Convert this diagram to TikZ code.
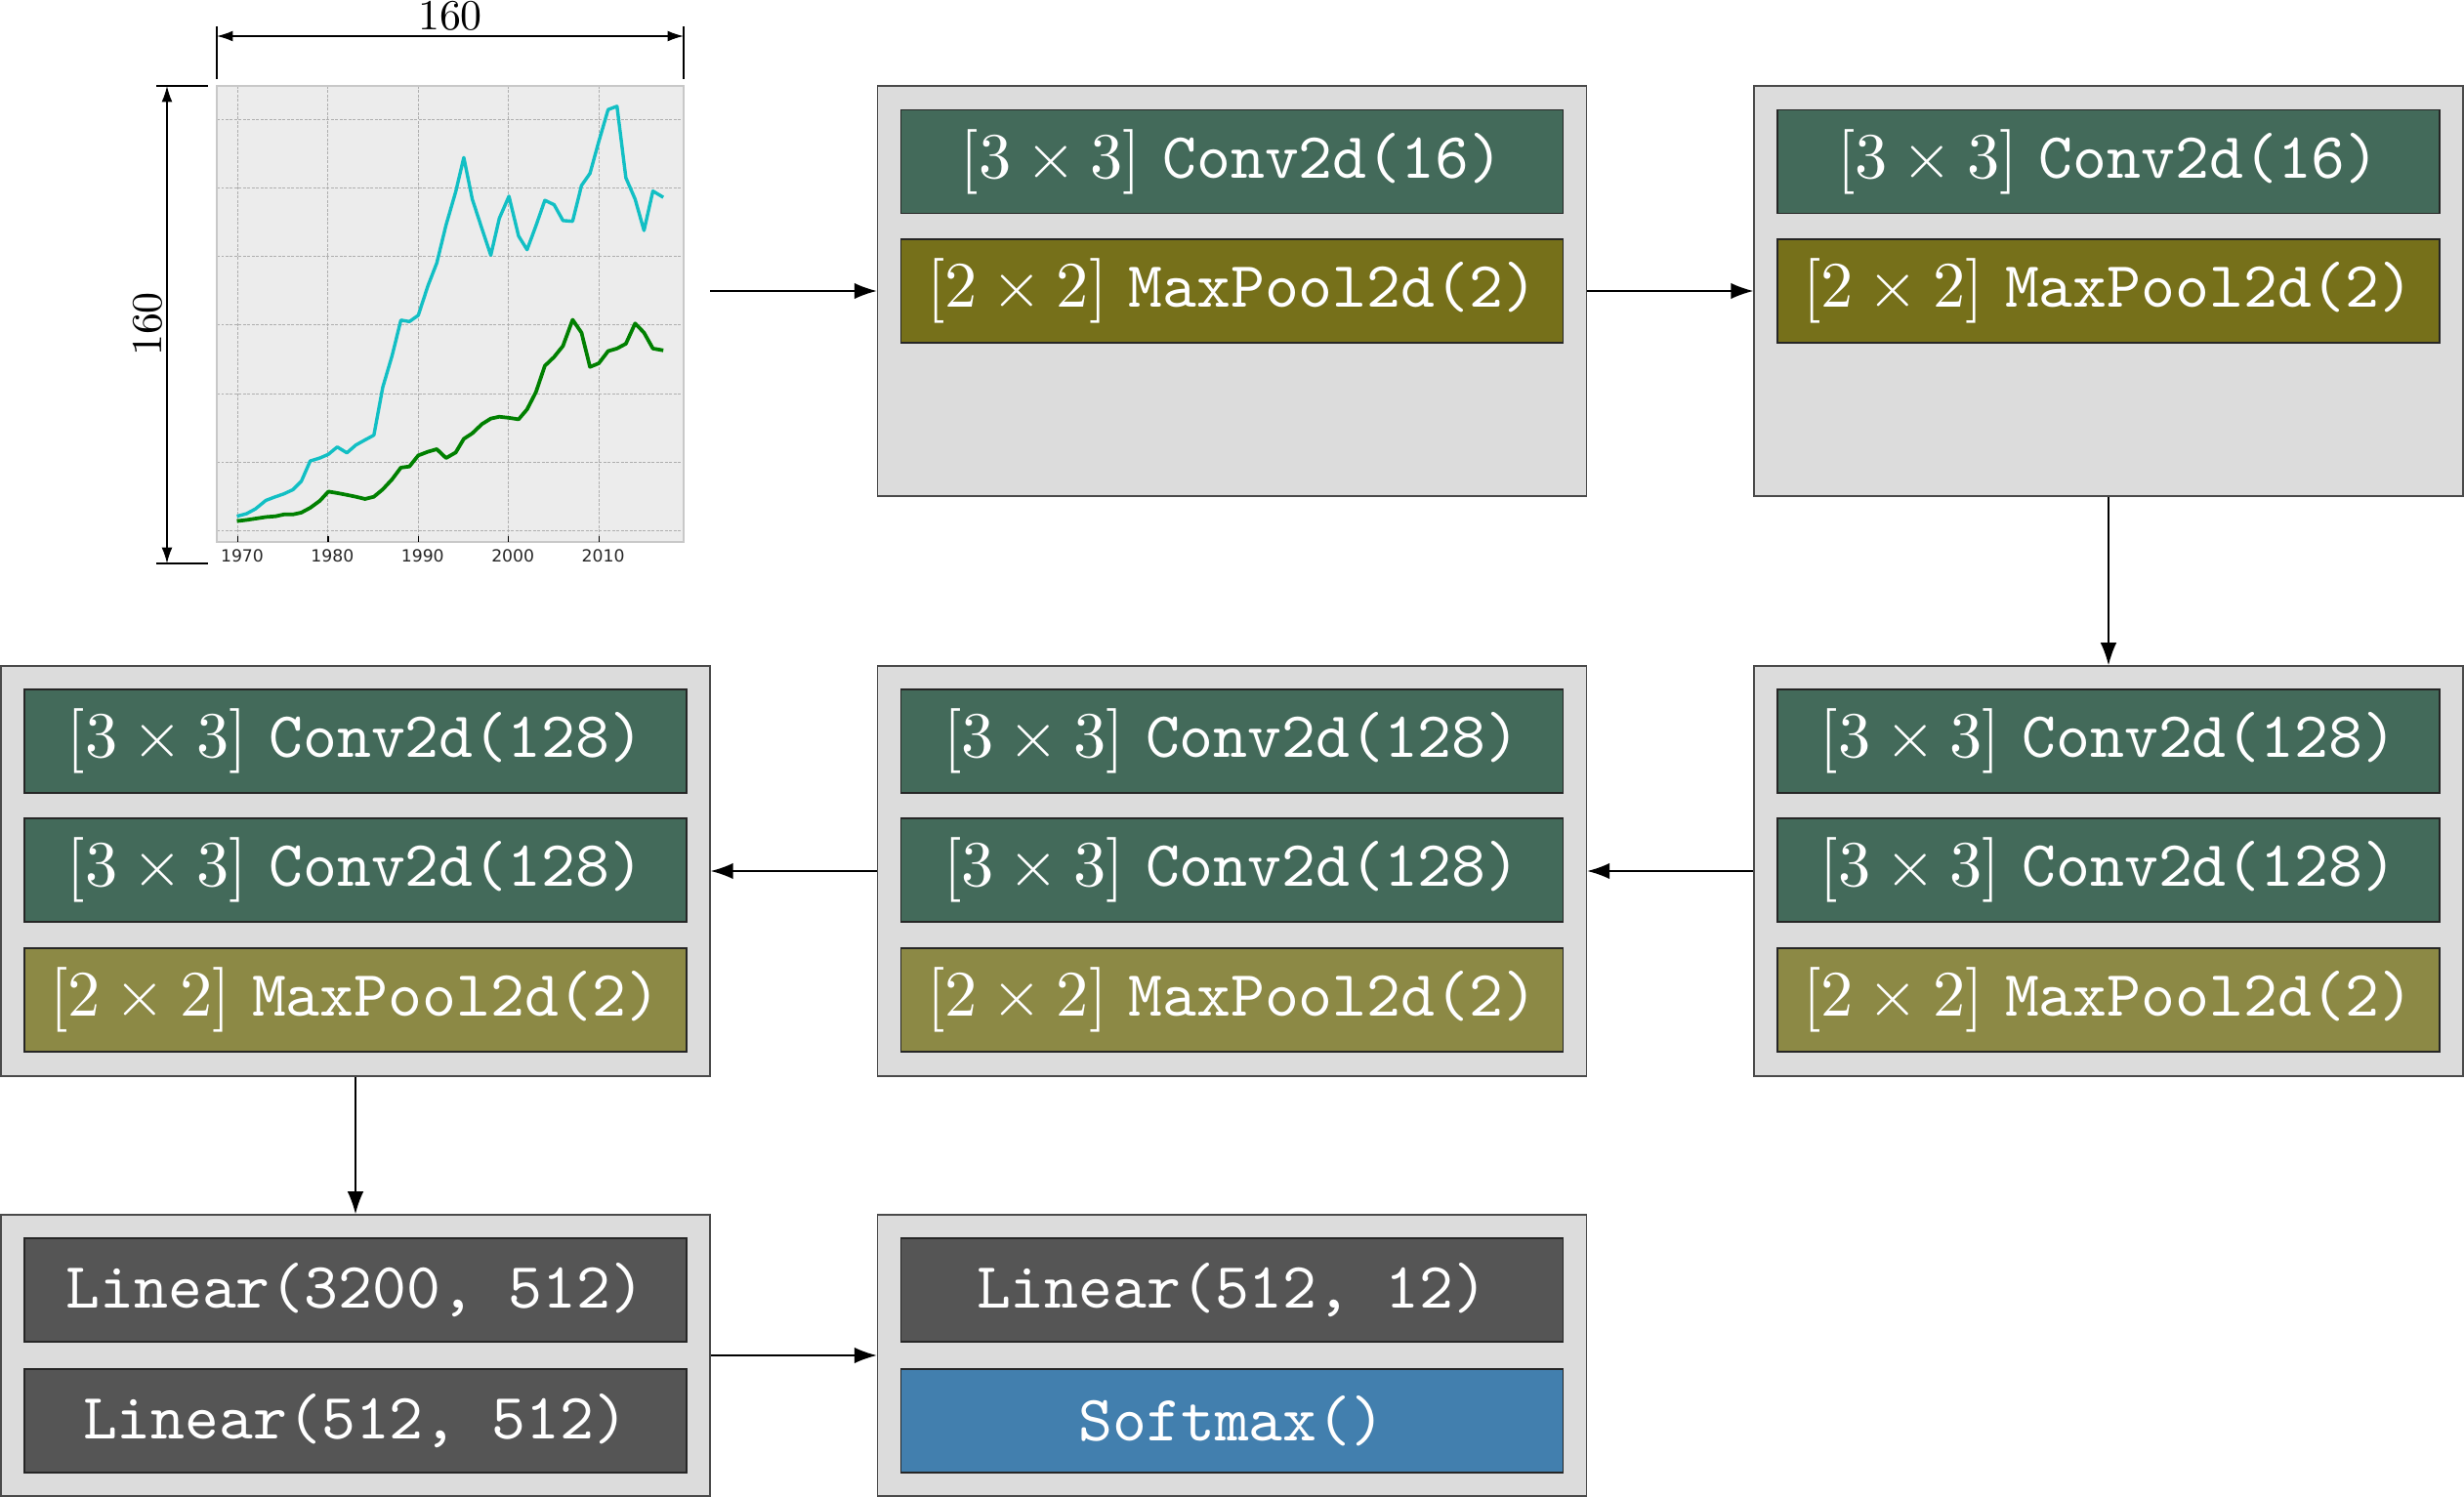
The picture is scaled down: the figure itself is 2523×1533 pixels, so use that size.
\documentclass[tikz,border=0pt]{standalone}
\usepackage{fontspec}
\setmainfont{lmroman10-regular.otf}
\setmonofont{lmmono10-regular.otf}
\newfontfamily\tickfont{DejaVu Sans}
\DeclareFontShape{OT1}{cmr}{m}{n}{<-> cmr10}{}
\DeclareFontShape{OMS}{cmsy}{m}{n}{<-> cmsy10}{}
\DeclareFontShape{OML}{cmm}{m}{it}{<-> cmmi10}{}
\usetikzlibrary{arrows.meta}
\definecolor{boxbg}{HTML}{DCDCDC}
\definecolor{boxline}{HTML}{4A4A4A}
\definecolor{convc}{HTML}{436A5A}
\definecolor{poolA}{HTML}{76701A}
\definecolor{poolB}{HTML}{8C8945}
\definecolor{linc}{HTML}{555555}
\definecolor{softc}{HTML}{427FAE}
\definecolor{plotbg}{HTML}{ECECEC}
\definecolor{plotframe}{HTML}{C8C8C8}
\definecolor{gridc}{HTML}{AFAFAF}
\definecolor{cyanl}{HTML}{12BFC4}
\definecolor{greenl}{HTML}{008000}
\definecolor{tickc}{HTML}{262626}
\begin{document}
\begin{tikzpicture}[x=0.02cm,y=-0.02cm,
  outerbox/.style={draw=boxline, fill=boxbg, line width=0.032cm, inner sep=0pt,
    minimum width=14.52cm, minimum height=8.4cm},
  shortbox/.style={outerbox, minimum height=5.76cm},
  layer/.style={draw=black!85, line width=0.026cm, inner sep=0pt, text=white,
    minimum width=13.56cm, minimum height=2.12cm,
    font=\fontsize{37.8}{45}\selectfont},
  conv/.style={layer, fill=convc},
  poolone/.style={layer, fill=poolA},
  pooltwo/.style={layer, fill=poolB},
  lin/.style={layer, fill=linc},
  soft/.style={layer, fill=softc},
  conn/.style={line width=0.03cm, -{Latex[length=0.46cm,width=0.33cm]}},
  dimarrow/.style={line width=0.03cm, {Latex[length=0.33cm,width=0.22cm]}-{Latex[length=0.33cm,width=0.22cm]}},
  dimline/.style={line width=0.026cm},
  gridline/.style={gridc, line width=0.02cm, dash pattern=on 0.055cm off 0.035cm},
  ticklabel/.style={text=tickc, font=\tickfont\fontsize{9.8}{11}\selectfont, inner sep=0pt},
  dimlabel/.style={font=\fontsize{25}{30}\selectfont, inner sep=0pt, anchor=base}
]
\useasboundingbox (0,0) rectangle (2523,1533);

% ---------- chart ----------
\node[minimum width=14.52cm, minimum height=8.4cm, inner sep=0pt] (chart) at (364,298) {};
\fill[plotbg] (222,88) rectangle (700,555);
\foreach \yy in {122.7,192.8,262.9,333.0,403.1,473.2,543.3}
  \draw[gridline] (222,\yy) -- (700,\yy);
\foreach \xx in {243.5,335.9,428.3,520.7,613.1}
  \draw[gridline] (\xx,88) -- (\xx,555);
\draw[plotframe, line width=0.03cm] (222,88) rectangle (700,555);
\foreach \xx/\yr in {243.5/1970,335.9/1980,428.3/1990,520.7/2000,613.1/2010}{
  \draw[line width=0.024cm] (\xx,549) -- (\xx,555);
  \node[ticklabel] (tick\yr) at (\xx+4.5,569) {\yr};
}
\begin{scope}[shift={(120.1,-1.8)}, x=0.0079cm, y=-0.00755cm]
\draw[greenl, line width=0.075cm, line join=round] plot coordinates {
(310,1418) (335,1415) (360,1411) (385,1407) (410,1405) (432,1400) (455,1400)
(477,1395) (500,1382) (525,1363) (547,1338) (570,1342) (595,1347) (618,1352)
(642,1358) (665,1352) (688,1332) (712,1305) (735,1273) (757,1270) (780,1240)
(805,1230) (828,1223) (852,1247) (877,1232) (898,1195) (920,1180) (945,1155)
(968,1140) (990,1135) (1015,1138) (1040,1142) (1062,1115) (1085,1068)
(1108,997) (1132,973) (1155,943) (1180,872) (1203,907) (1225,1000) (1248,990)
(1272,957) (1295,950) (1318,937) (1342,882) (1365,907) (1388,950) (1415,955)};
\draw[cyanl, line width=0.068cm, line join=round] plot coordinates {
(310,1405) (335,1398) (358,1385) (385,1362) (410,1352) (430,1345) (455,1333)
(477,1310) (500,1255) (525,1247) (547,1237) (570,1217) (595,1233) (618,1212)
(642,1198) (665,1185) (688,1055) (712,970) (735,873) (757,877) (780,860)
(805,780) (828,718) (852,615) (877,525) (898,432) (920,545) (945,625)
(968,697) (990,597) (1015,537) (1040,645) (1062,682) (1085,617) (1108,548)
(1132,560) (1155,603) (1180,605) (1203,508) (1225,475) (1248,388) (1272,302)
(1295,293) (1318,487) (1342,545) (1365,630) (1388,523) (1415,540)};
\end{scope}

% dimension lines
\coordinate (dimTL) at (222,37);
\coordinate (dimTR) at (700,37);
\draw[dimline] (222,27) -- (222,81);
\draw[dimline] (700,27) -- (700,81);
\draw[dimarrow] (dimTL) -- (dimTR);
\node[dimlabel] (dimtop) at (461,31) {160};
\coordinate (dimLT) at (171,88);
\coordinate (dimLB) at (171,577);
\draw[dimline] (160,88) -- (213,88);
\draw[dimline] (160,577) -- (213,577);
\draw[dimarrow] (dimLT) -- (dimLB);
\node[dimlabel, rotate=90] (dimleft) at (165,332) {160};

% ---------- blocks ----------
\node[outerbox] (A) at (1261.5,298) {};
\node[conv]    (A1) at (1261.5,165.5) {$[3\times 3]$ \texttt{Conv2d(16)}};
\node[poolone] (A2) at (1261.5,298) {$[2\times 2]$ \texttt{MaxPool2d(2)}};

\node[outerbox] (B) at (2159,298) {};
\node[conv]    (B1) at (2159,165.5) {$[3\times 3]$ \texttt{Conv2d(16)}};
\node[poolone] (B2) at (2159,298) {$[2\times 2]$ \texttt{MaxPool2d(2)}};

\node[outerbox] (C) at (2159,892) {};
\node[conv]     (C1) at (2159,759) {$[3\times 3]$ \texttt{Conv2d(128)}};
\node[conv]     (C2) at (2159,891) {$[3\times 3]$ \texttt{Conv2d(128)}};
\node[pooltwo]  (C3) at (2159,1024) {$[2\times 2]$ \texttt{MaxPool2d(2)}};

\node[outerbox] (D) at (1261.5,892) {};
\node[conv]     (D1) at (1261.5,759) {$[3\times 3]$ \texttt{Conv2d(128)}};
\node[conv]     (D2) at (1261.5,891) {$[3\times 3]$ \texttt{Conv2d(128)}};
\node[pooltwo]  (D3) at (1261.5,1024) {$[2\times 2]$ \texttt{MaxPool2d(2)}};

\node[outerbox] (E) at (364,892) {};
\node[conv]     (E1) at (364,759) {$[3\times 3]$ \texttt{Conv2d(128)}};
\node[conv]     (E2) at (364,891) {$[3\times 3]$ \texttt{Conv2d(128)}};
\node[pooltwo]  (E3) at (364,1024) {$[2\times 2]$ \texttt{MaxPool2d(2)}};

\node[shortbox] (F) at (364,1388) {};
\node[lin]      (F1) at (364,1321) {\texttt{Linear(3200, 512)}};
\node[lin]      (F2) at (364,1455) {\texttt{Linear(512, 512)}};

\node[shortbox] (G) at (1261.5,1388) {};
\node[lin]      (G1) at (1261.5,1321) {\texttt{Linear(512, 12)}};
\node[soft]     (G2) at (1261.5,1455) {\texttt{Softmax()}};

% ---------- connectors ----------
\draw[conn] (chart.east) -- (A.west);
\draw[conn] (A.east) -- (B.west);
\draw[conn] (B.south) -- (C.north);
\draw[conn] (C.west) -- (D.east);
\draw[conn] (D.west) -- (E.east);
\draw[conn] (E.south) -- (F.north);
\draw[conn] (F.east) -- (G.west);
\end{tikzpicture}
\end{document}
